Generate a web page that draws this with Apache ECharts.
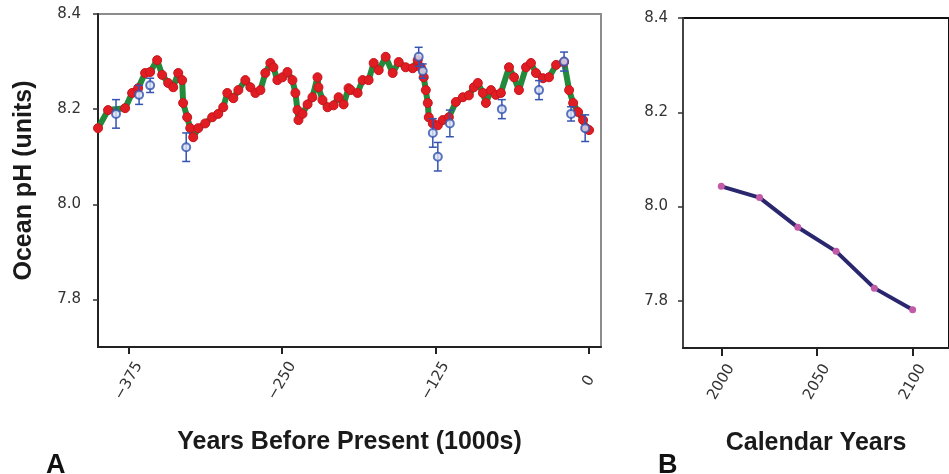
<!DOCTYPE html>
<html>
<head>
<meta charset="utf-8">
<title>Ocean pH</title>
<script src="https://cdn.jsdelivr.net/npm/echarts@6/dist/echarts.min.js"></script>
<style>
  html, body { margin: 0; padding: 0; background: #fff; }
  #chart { width: 949px; height: 474px; }
</style>
</head>
<body>
<div id="chart"></div>
<script>
// panel A: reconstructed pH, thousands of years before present
var pastYears = [-400, -391.8, -377.9, -372.2, -367.3, -361.6, -357.5, -351.8, -347.7, -342.8,
    -338.7, -334.6, -331.4, -330.6, -327.3, -324.8, -322.4, -318.3, -312.6, -306.9,
    -302.0, -297.9, -294.6, -289.7, -285.6, -279.9, -275.8, -271.7, -267.6, -263.6,
    -259.5, -257.0, -253.8, -249.7, -245.6, -241.5, -239.1, -237.4, -236.6, -233.3,
    -229.2, -225.2, -221.1, -220.3, -217.0, -212.9, -208.0, -203.9, -199.8, -195.8,
    -194.1, -188.4, -184.3, -179.4, -175.3, -171.2, -165.5, -159.8, -154.9, -149.2,
    -143.5, -139.4, -136.9, -134.5, -132.8, -131.2, -130.4, -127.1, -123.0, -119.0,
    -114.0, -108.3, -102.6, -97.7, -93.6, -90.4, -86.3, -83.8, -79.7, -75.7,
    -71.6, -65.0, -60.9, -56.9, -51.1, -47.1, -43.0, -37.3, -32.4, -26.6,
    -20.1, -16.0, -12.7, -8.7, -4.6, -2.1, 0.3];
var pastPH = [8.160, 8.198, 8.202, 8.234, 8.244, 8.276, 8.278, 8.303, 8.272, 8.255,
    8.246, 8.276, 8.261, 8.213, 8.183, 8.160, 8.141, 8.160, 8.170, 8.183,
    8.190, 8.204, 8.234, 8.223, 8.240, 8.261, 8.246, 8.234, 8.240, 8.276,
    8.297, 8.288, 8.261, 8.267, 8.278, 8.261, 8.234, 8.198, 8.177, 8.190,
    8.210, 8.225, 8.267, 8.246, 8.219, 8.204, 8.208, 8.225, 8.210, 8.244,
    8.240, 8.234, 8.261, 8.261, 8.297, 8.282, 8.310, 8.276, 8.299, 8.288,
    8.286, 8.303, 8.288, 8.267, 8.240, 8.213, 8.183, 8.170, 8.166, 8.177,
    8.183, 8.215, 8.225, 8.229, 8.246, 8.255, 8.234, 8.213, 8.240, 8.230,
    8.234, 8.288, 8.267, 8.240, 8.288, 8.297, 8.276, 8.265, 8.267, 8.293,
    8.299, 8.240, 8.213, 8.194, 8.177, 8.160, 8.156];

// panel A: proxy measurements with error bars
var proxyYears = [-385.3, -366.5, -357.5, -328.1, -138.6, -135.3, -127.1, -123.0, -113.2, -70.8, -40.5, -20.1, -14.4, -2.9];
var proxyPH = [8.19, 8.23, 8.25, 8.12, 8.31, 8.28, 8.15, 8.10, 8.17, 8.20, 8.24, 8.30, 8.19, 8.16];
var proxyErr = [0.030, 0.020, 0.015, 0.030, 0.020, 0.015, 0.030, 0.030, 0.028, 0.020, 0.020, 0.020, 0.015, 0.028];

// panel B: projected pH, calendar years
var futureYears = [2000, 2020, 2040, 2060, 2080, 2100];
var futurePH = [8.043, 8.019, 7.956, 7.905, 7.827, 7.781];

var phTicks = [7.8, 8.0, 8.2, 8.4];
var pastTicks = [-375, -250, -125, 0];
var futureTicks = [2000, 2050, 2100];

var chart = echarts.init(document.getElementById('chart'), null, { renderer: 'canvas' });

var titleFont = 'Liberation Sans, Arial, sans-serif';
var tickFont = 'DejaVu Sans, Verdana, sans-serif';

var pastData = pastYears.map(function (y, i) { return [y, pastPH[i]]; });
var proxyData = proxyYears.map(function (y, i) { return [y, proxyPH[i]]; });
var proxyBars = proxyYears.map(function (y, i) {
    return [y, proxyPH[i] - proxyErr[i], proxyPH[i] + proxyErr[i]];
});
var futureData = futureYears.map(function (y, i) { return [y, futurePH[i]]; });

function yAxisFor(grid, lineColor, name, margin) {
    return {
        type: 'value',
        gridIndex: grid,
        min: 7.7,
        max: 8.4,
        name: name,
        nameLocation: 'middle',
        nameGap: 61,
        nameRotate: 90,
        nameTextStyle: { fontFamily: titleFont, fontWeight: 'bold', fontSize: 25, color: '#1a1a1a' },
        splitLine: { show: false },
        axisLine: { show: true, onZero: false, lineStyle: { color: lineColor, width: 2 } },
        axisTick: { show: true, length: 5, customValues: phTicks, lineStyle: { color: '#333', width: 1.5 } },
        axisLabel: {
            customValues: phTicks,
            margin: margin,
            fontFamily: tickFont,
            fontSize: 15,
            color: '#333',
            formatter: function (v) { return v.toFixed(1); }
        }
    };
}

function xAxisFor(grid, min, max, ticks, name, tickLen) {
    return {
        type: 'value',
        gridIndex: grid,
        min: min,
        max: max,
        name: name,
        nameLocation: 'middle',
        nameGap: 83,
        nameTextStyle: { fontFamily: titleFont, fontWeight: 'bold', fontSize: 25, color: '#1a1a1a' },
        splitLine: { show: false },
        axisLine: { show: true, onZero: false, lineStyle: { color: '#222', width: 2 } },
        axisTick: { show: true, length: tickLen, customValues: ticks, lineStyle: { color: '#222', width: 2 } },
        axisLabel: {
            customValues: ticks,
            rotate: 60,
            align: 'center',
            verticalAlign: 'middle',
            margin: 34,
            fontFamily: tickFont,
            fontSize: 15,
            color: '#333',
            formatter: function (v) { return v < 0 ? '\u2212' + Math.abs(v) : String(v); }
        }
    };
}

var option = {
    animation: false,
    backgroundColor: '#fff',
    grid: [
        { left: 98, top: 14, width: 503, height: 333, show: true, borderColor: '#8c8c8c', borderWidth: 2 },
        { left: 683, top: 18, width: 272, height: 330, show: true, borderColor: '#111', borderWidth: 2 }
    ],
    xAxis: [
        xAxisFor(0, -400, 10, pastTicks, 'Years Before Present (1000s)', 7),
        xAxisFor(1, 1980, 2119, futureTicks, 'Calendar Years', 8)
    ],
    yAxis: [
        yAxisFor(0, '#222', 'Ocean pH (units)', 17),
        yAxisFor(1, '#444', '', 15)
    ],
    graphic: [
        { type: 'text', left: 46, top: 452, style: { text: 'A', fontFamily: titleFont, fontWeight: 'bold', fontSize: 27, fill: '#111' } },
        { type: 'text', left: 658, top: 452, style: { text: 'B', fontFamily: titleFont, fontWeight: 'bold', fontSize: 27, fill: '#111' } }
    ],
    series: [
        {
            type: 'line',
            xAxisIndex: 0,
            yAxisIndex: 0,
            data: pastData,
            showSymbol: true,
            symbol: 'circle',
            symbolSize: 9,
            lineStyle: { color: '#238a3c', width: 6 },
            itemStyle: { color: '#e11d24', borderColor: '#c8141b', borderWidth: 1 },
            z: 2
        },
        {
            type: 'custom',
            xAxisIndex: 0,
            yAxisIndex: 0,
            data: proxyBars,
            renderItem: function (params, api) {
                var top = api.coord([api.value(0), api.value(2)]);
                var bot = api.coord([api.value(0), api.value(1)]);
                var style = { stroke: '#3553b0', lineWidth: 1.5 };
                return {
                    type: 'group',
                    children: [
                        { type: 'line', shape: { x1: top[0], y1: top[1], x2: bot[0], y2: bot[1] }, style: style },
                        { type: 'line', shape: { x1: top[0] - 4, y1: top[1], x2: top[0] + 4, y2: top[1] }, style: style },
                        { type: 'line', shape: { x1: bot[0] - 4, y1: bot[1], x2: bot[0] + 4, y2: bot[1] }, style: style }
                    ]
                };
            },
            z: 3
        },
        {
            type: 'scatter',
            xAxisIndex: 0,
            yAxisIndex: 0,
            data: proxyData,
            symbol: 'circle',
            symbolSize: 8,
            itemStyle: { color: '#dce4f4', borderColor: '#3553b0', borderWidth: 2 },
            z: 4
        },
        {
            type: 'line',
            xAxisIndex: 1,
            yAxisIndex: 1,
            data: futureData,
            symbol: 'circle',
            symbolSize: 7,
            lineStyle: { color: '#2a276e', width: 4 },
            itemStyle: { color: '#c25aa8' },
            z: 2
        }
    ]
};

chart.setOption(option);
</script>
</body>
</html>
